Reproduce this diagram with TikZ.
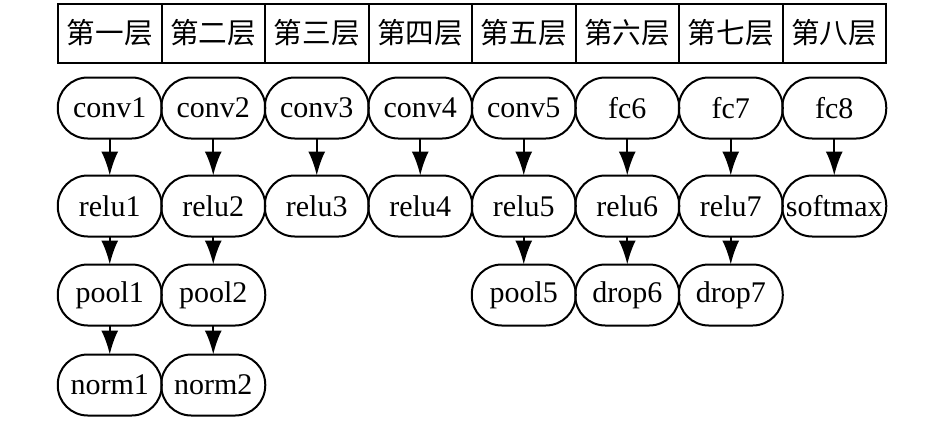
\documentclass[tikz,border=0pt]{standalone}
\usepackage{fontspec}
\setmainfont{Liberation Serif}
\newfontfamily\cjk{Noto Sans CJK SC}
\usetikzlibrary{positioning,arrows.meta}

\begin{document}
\begin{tikzpicture}[x=0.5pt,y=-0.5pt,>={Latex[length=12pt,width=8.5pt]},
  every node/.style={font=\fontsize{15}{17}\selectfont,outer sep=0pt,inner sep=0pt},
  layer/.style={draw,line width=1pt,minimum width=51.75pt,minimum height=29.5pt,font=\cjk\fontsize{14.3}{17}\selectfont},
  op/.style={draw,line width=1pt,rounded corners=15pt,minimum width=52pt,minimum height=30.5pt}]
\useasboundingbox (0,0) rectangle (945,423);
% layer header
\node[layer](hdr1) at (109.75,33){第一层};
\node[layer,right=0pt of hdr1](hdr2){第二层};
\node[layer,right=0pt of hdr2](hdr3){第三层};
\node[layer,right=0pt of hdr3](hdr4){第四层};
\node[layer,right=0pt of hdr4](hdr5){第五层};
\node[layer,right=0pt of hdr5](hdr6){第六层};
\node[layer,right=0pt of hdr6](hdr7){第七层};
\node[layer,right=0pt of hdr7](hdr8){第八层};
% first row
\node[op,below=7.5pt of hdr1](conv1){conv1};
\node[op,below=7.5pt of hdr2](conv2){conv2};
\node[op,below=7.5pt of hdr3](conv3){conv3};
\node[op,below=7.5pt of hdr4](conv4){conv4};
\node[op,below=7.5pt of hdr5](conv5){conv5};
\node[op,below=7.5pt of hdr6](fc6){fc6};
\node[op,below=7.5pt of hdr7](fc7){fc7};
\node[op,below=7.5pt of hdr8](fc8){fc8};
% second row
\node[op,below=18.5pt of conv1](relu1){relu1};
\node[op,below=18.5pt of conv2](relu2){relu2};
\node[op,below=18.5pt of conv3](relu3){relu3};
\node[op,below=18.5pt of conv4](relu4){relu4};
\node[op,below=18.5pt of conv5](relu5){relu5};
\node[op,below=18.5pt of fc6](relu6){relu6};
\node[op,below=18.5pt of fc7](relu7){relu7};
\node[op,below=18.5pt of fc8](softmax){softmax};
% third and fourth rows
\node[op,below=14pt of relu1](pool1){pool1};
\node[op,below=14pt of relu2](pool2){pool2};
\node[op,below=14pt of relu5](pool5){pool5};
\node[op,below=14pt of relu6](drop6){drop6};
\node[op,below=14pt of relu7](drop7){drop7};
\node[op,below=14.5pt of pool1](norm1){norm1};
\node[op,below=14.5pt of pool2](norm2){norm2};
\begin{scope}[line width=1pt]
\draw[->](conv1)--(relu1); \draw[->](relu1)--(pool1); \draw[->](pool1)--(norm1);
\draw[->](conv2)--(relu2); \draw[->](relu2)--(pool2); \draw[->](pool2)--(norm2);
\draw[->](conv3)--(relu3); \draw[->](conv4)--(relu4);
\draw[->](conv5)--(relu5); \draw[->](relu5)--(pool5);
\draw[->](fc6)--(relu6); \draw[->](relu6)--(drop6);
\draw[->](fc7)--(relu7); \draw[->](relu7)--(drop7);
\draw[->](fc8)--(softmax);
\end{scope}
\end{tikzpicture}
\end{document}
